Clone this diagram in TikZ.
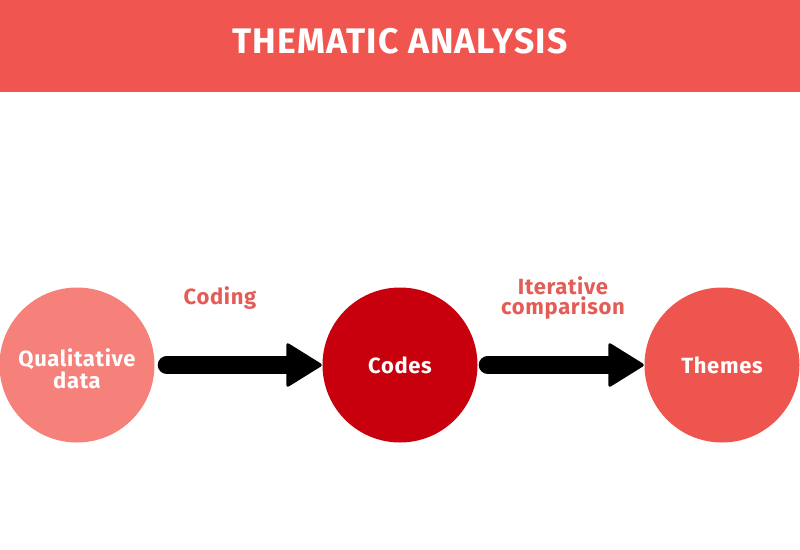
\documentclass[tikz,border=0pt]{standalone}
\usepackage{fontspec}
\setmainfont{Fira Sans}[LetterSpace=3]
\usetikzlibrary{calc}
\definecolor{hdr}{HTML}{F0564F}
\definecolor{cone}{HTML}{F6807A}
\definecolor{ctwo}{HTML}{C8000E}
\definecolor{cthree}{HTML}{EF554F}
\definecolor{lbl}{HTML}{E35C56}
\tikzset{
  titletext/.style={text=white, font=\fontsize{35.5}{38}\selectfont\bfseries, inner sep=0pt},
  circ/.style={circle, minimum size=155pt, inner sep=0pt, align=center, text=white,
    font=\fontsize{22}{21.5}\selectfont\bfseries},
  lbltext/.style={text=lbl, align=center, inner sep=0pt, font=\fontsize{22}{20.5}\selectfont\bfseries},
  shaft/.style={line width=18pt, line cap=round, black},
  head/.style={fill=black, rounded corners=3pt}
}
\begin{document}
\begin{tikzpicture}[x=1pt,y=-1pt]
\useasboundingbox (0,0) rectangle (800,549);
\fill[white] (0,0) rectangle (800,549);
\fill[hdr] (0,0) rectangle (800,92);
\node[titletext] (t) at (400,41) {THEMATIC ANALYSIS};
\node[circ, fill=cone] (q) at (77,365) {};
\node[circ, fill=ctwo] (c) at (400,365) {Codes};
\node[circ, fill=cthree] (th) at (722,365) {Themes};
\node[circ, minimum size=0pt, fill=none] (qt) at (77,369) {Qualitative\\data};
\node[lbltext] (l1) at (220,298) {Coding};
\node[lbltext] (l2) at (563,298) {Iterative\\comparison};
\draw[shaft] ($(q.east)+(12,0)$) -- ($(c.west)+(-30,0)$);
\fill[head] ($(c.west)+(-36,-23)$) -- ($(c.west)+(1,0)$) -- ($(c.west)+(-36,23)$) -- cycle;
\draw[shaft] ($(c.east)+(10,0)$) -- ($(th.west)+(-30,0)$);
\fill[head] ($(th.west)+(-36,-23)$) -- ($(th.west)+(1,0)$) -- ($(th.west)+(-36,23)$) -- cycle;
\end{tikzpicture}
\end{document}
